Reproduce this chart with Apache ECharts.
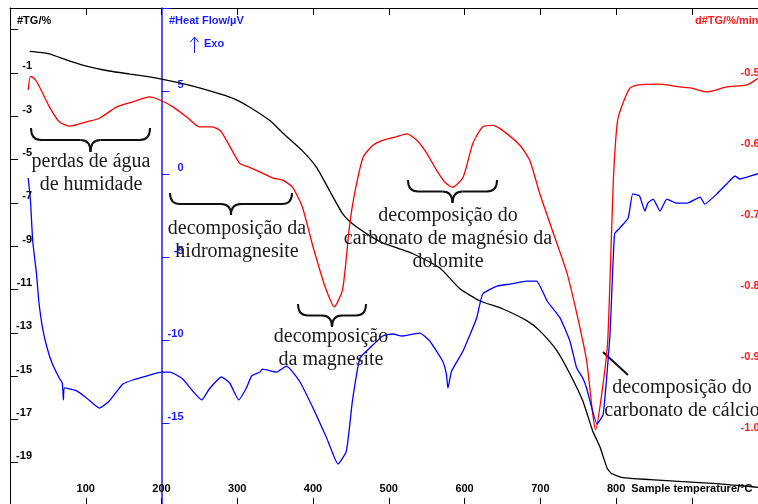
<!DOCTYPE html>
<html>
<head>
<meta charset="utf-8">
<script src="https://cdn.jsdelivr.net/npm/echarts@6/dist/echarts.min.js"></script>
<style>
html, body { margin: 0; padding: 0; background: #fff; }
#chart { width: 758px; height: 504px; }
</style>
</head>
<body>
<div id="chart"></div>
<script>
// ---- data ----
// TG (mass change, %) - left axis
var tgTemp = [26, 40, 52, 79, 105, 131, 158, 184, 200, 224, 250, 277, 296, 316, 343, 360, 386, 405, 422, 439, 452, 471, 492, 514, 532, 567, 594, 620, 650, 682, 699, 722, 739, 756, 769, 779, 788, 794, 809, 845, 888, 933, 977, 1003];
var tgMass = [0.0, -0.05, -0.12, -0.45, -0.72, -0.91, -1.05, -1.18, -1.28, -1.46, -1.69, -1.97, -2.2, -2.57, -3.2, -3.77, -4.6, -5.38, -6.45, -7.5, -7.97, -8.43, -8.85, -9.12, -9.35, -10.0, -10.97, -11.52, -11.89, -12.44, -12.9, -13.83, -14.89, -16.14, -17.52, -18.3, -19.23, -19.5, -19.69, -19.78, -19.87, -19.97, -20.1, -20.2];

// DTG (%/min) - right axis
var dtgTemp = [24, 27, 32, 39, 52, 65, 79, 101, 118, 141, 162, 184, 197, 215, 233, 250, 267, 279, 303, 316, 333, 347, 360, 373, 386, 400, 405, 415, 428, 439, 448, 455, 466, 479, 492, 510, 524, 537, 550, 563, 574, 584, 598, 611, 624, 637, 650, 673, 686, 699, 717, 735, 748, 761, 769, 773, 783, 789, 794, 797, 802, 809, 818, 829, 858, 884, 901, 920, 933, 946, 973, 987, 1000];
var dtgRate = [-0.515, -0.496, -0.499, -0.511, -0.539, -0.560, -0.566, -0.560, -0.555, -0.539, -0.532, -0.525, -0.529, -0.539, -0.553, -0.567, -0.567, -0.574, -0.618, -0.624, -0.632, -0.639, -0.642, -0.652, -0.680, -0.736, -0.754, -0.789, -0.820, -0.796, -0.708, -0.660, -0.610, -0.593, -0.586, -0.581, -0.577, -0.586, -0.604, -0.628, -0.645, -0.652, -0.638, -0.590, -0.567, -0.565, -0.572, -0.593, -0.614, -0.660, -0.716, -0.772, -0.829, -0.895, -0.969, -0.993, -0.927, -0.867, -0.716, -0.628, -0.558, -0.534, -0.513, -0.508, -0.507, -0.511, -0.513, -0.518, -0.515, -0.511, -0.508, -0.499, -0.490];

// DSC heat flow (µV) - blue axis at 200 °C
var dscTemp = [24, 27, 30, 35, 38, 43, 49, 56, 65, 69, 70.5, 72, 88, 101, 118, 131, 149, 162, 180, 200, 211, 228, 241, 253, 263, 279, 290, 302, 312, 319, 330, 333, 352, 365, 382, 400, 418, 433, 444, 452, 462, 475, 492, 505, 518, 541, 554, 571, 576, 578, 583, 598, 616, 624, 643, 660, 682, 695, 709, 726, 739, 748, 756, 761, 775, 783, 792, 798, 805, 816, 822, 831, 838, 842, 849, 858, 867, 880, 894, 911, 917, 933, 946, 957, 963, 986, 1000];
var dscHeat = [-0.24, -1.6, -4.04, -6.02, -7.65, -9.28, -10.48, -11.45, -12.29, -12.59, -13.61, -12.89, -13.07, -13.49, -14.10, -13.67, -12.65, -12.41, -12.17, -11.93, -11.93, -12.35, -13.07, -13.61, -12.95, -12.23, -12.59, -13.61, -12.89, -12.17, -11.93, -11.75, -11.93, -11.57, -12.47, -14.10, -15.90, -17.47, -16.69, -13.67, -11.08, -10.48, -9.76, -9.64, -9.76, -9.58, -10.06, -11.27, -12.05, -12.89, -11.87, -10.66, -8.67, -7.23, -6.75, -6.63, -6.45, -6.45, -7.65, -8.67, -10.06, -11.69, -12.29, -12.89, -15.06, -14.46, -9.64, -3.61, -3.25, -2.65, -1.20, -1.33, -2.23, -1.75, -1.51, -2.23, -1.51, -1.75, -1.75, -1.39, -1.81, -1.20, -0.60, -0.12, -0.30, 0.00, 0.10];

// annotation texts (Portuguese, as in the figure)
var notes = [
    { text: 'perdas de água\nde humidade', x: 91, y: 173.5 },
    { text: 'decomposição da\nhidromagnesite', x: 237, y: 240 },
    { text: 'decomposição\nda magnesite', x: 331, y: 348.5 },
    { text: 'decomposição do\ncarbonato de magnésio da\ndolomite', x: 448, y: 239 },
    { text: 'decomposição do\ncarbonato de cálcio', x: 682, y: 399.5 }
];
// curly braces: x from, x to, top y, depth
var braces = [
    [31, 150, 128, 12],
    [170, 292, 193, 11],
    [298, 366, 304, 11.5],
    [408, 497, 180, 11.5]
];

function zip(xs, ys) {
    return xs.map(function (x, i) { return [x, ys[i]]; });
}

var BLUE = '#1a1aff';
var RED = '#ff1a1a';
var labelFont = { fontFamily: 'Liberation Sans', fontWeight: 'bold', fontSize: 11 };

function braceElements(b) {
    var x1 = b[0], x2 = b[1], top = b[2], ry = b[3], rx = 10;
    var xm = (x1 + x2) / 2, ym = top + ry;
    var st = { stroke: '#111', lineWidth: 2, fill: null };
    return [
        { type: 'bezierCurve', shape: { x1: x1, y1: top, cpx1: x1, cpy1: ym, x2: x1 + rx, y2: ym }, style: st },
        { type: 'line', shape: { x1: x1 + rx, y1: ym, x2: xm - rx, y2: ym }, style: st },
        { type: 'bezierCurve', shape: { x1: xm - rx, y1: ym, cpx1: xm, cpy1: ym, x2: xm, y2: ym + ry }, style: st },
        { type: 'bezierCurve', shape: { x1: xm, y1: ym + ry, cpx1: xm, cpy1: ym, x2: xm + rx, y2: ym }, style: st },
        { type: 'line', shape: { x1: xm + rx, y1: ym, x2: x2 - rx, y2: ym }, style: st },
        { type: 'bezierCurve', shape: { x1: x2 - rx, y1: ym, cpx1: x2, cpy1: ym, x2: x2, y2: top }, style: st }
    ];
}

var graphics = [];
braces.forEach(function (b) { graphics = graphics.concat(braceElements(b)); });
notes.forEach(function (n) {
    graphics.push({
        type: 'text', x: n.x, y: n.y, z: 10,
        style: {
            text: n.text, fill: '#1a1a1a',
            fontFamily: 'Liberation Serif', fontSize: 20, lineHeight: 23,
            align: 'center', verticalAlign: 'middle',
            textAlign: 'center', textVerticalAlign: 'middle'
        }
    });
});
// pointer line for the calcium carbonate peak
graphics.push({ type: 'line', shape: { x1: 603, y1: 352, x2: 628, y2: 375 }, style: { stroke: '#111', lineWidth: 2 } });
// axis titles
graphics.push({ type: 'text', x: 17, y: 21, style: Object.assign({ text: '#TG/%', fill: '#000', verticalAlign: 'middle', textVerticalAlign: 'middle' }, labelFont) });
graphics.push({ type: 'text', x: 169, y: 21, style: Object.assign({ text: '#Heat Flow/µV', fill: BLUE, verticalAlign: 'middle', textVerticalAlign: 'middle' }, labelFont) });
graphics.push({ type: 'text', x: 204, y: 44, style: Object.assign({ text: 'Exo', fill: BLUE, verticalAlign: 'middle', textVerticalAlign: 'middle' }, labelFont) });
graphics.push({ type: 'text', x: 695, y: 21, style: Object.assign({ text: 'd#TG/%/min', fill: RED, verticalAlign: 'middle', textVerticalAlign: 'middle' }, labelFont) });
// Exo arrow
graphics.push({ type: 'line', shape: { x1: 194.5, y1: 53, x2: 194.5, y2: 37 }, style: { stroke: BLUE, lineWidth: 1 } });
graphics.push({ type: 'polyline', shape: { points: [[190.5, 42], [194.5, 37], [198.5, 42]] }, style: { stroke: BLUE, lineWidth: 1, fill: null } });

var chart = echarts.init(document.getElementById('chart'));
chart.setOption({
    animation: false,
    backgroundColor: '#fff',
    grid: { left: 10, top: 8, width: 757.6, height: 498, containLabel: false, outerBoundsMode: 'none' },
    xAxis: [{
        type: 'value', min: 0, max: 1000, interval: 100, position: 'bottom',
        axisLine: { show: true, onZero: false, lineStyle: { color: '#000' } },
        axisTick: { inside: true, length: 8, lineStyle: { color: '#000' } },
        axisLabel: Object.assign({
            inside: true, margin: 12, color: '#000',
            formatter: function (v) {
                if (v >= 100 && v <= 800) return String(v);
                if (v === 900) return 'Sample temperature/°C';
                return '';
            }
        }, labelFont),
        splitLine: { show: false }
    }, {
        type: 'value', min: 0, max: 1000, interval: 100, position: 'top',
        axisLine: { show: true, onZero: false, lineStyle: { color: '#000' } },
        axisTick: { inside: true, length: 7, lineStyle: { color: '#000' } },
        axisLabel: { show: false },
        splitLine: { show: false }
    }],
    yAxis: [{
        // #TG/%
        type: 'value', min: -21, max: 2, interval: 2, position: 'left',
        axisLine: { show: true, onZero: false, lineStyle: { color: '#000' } },
        axisTick: { inside: true, length: 8, lineStyle: { color: '#000' } },
        axisLabel: Object.assign({
            inside: true, align: 'right', margin: 22, verticalAlign: 'bottom', lineHeight: 13, color: '#000',
            formatter: function (v) { return (v <= -1 && v >= -19) ? String(v) : ''; }
        }, labelFont),
        splitLine: { show: false }
    }, {
        // #Heat Flow/µV, drawn at 200 °C
        type: 'value', min: -20, max: 10, interval: 5, position: 'left', offset: -151.5,
        axisLine: { show: true, onZero: false, lineStyle: { color: BLUE, width: 1.5 } },
        axisTick: { inside: true, length: 8, lineStyle: { color: BLUE } },
        axisLabel: Object.assign({
            inside: true, align: 'right', margin: 22, verticalAlign: 'bottom', lineHeight: 13, color: BLUE,
            formatter: function (v) { return (v > -20 && v < 10) ? String(v) : ''; }
        }, labelFont),
        splitLine: { show: false }
    }, {
        // d#TG/%/min
        type: 'value', min: -1.1, max: -0.4, interval: 0.1, position: 'right',
        axisLine: { show: true, onZero: false, lineStyle: { color: RED } },
        axisTick: { inside: true, length: 8, lineStyle: { color: RED } },
        axisLabel: Object.assign({
            inside: true, align: 'left', margin: 27, verticalAlign: 'bottom', lineHeight: 13, color: RED,
            formatter: function (v) { return (v > -1.05 && v < -0.45) ? v.toFixed(1) : ''; }
        }, labelFont),
        splitLine: { show: false }
    }],
    series: [{
        name: 'TG', type: 'line', xAxisIndex: 0, yAxisIndex: 0,
        data: zip(tgTemp, tgMass), showSymbol: false, smooth: 0.2,
        lineStyle: { color: '#000', width: 1.3 }
    }, {
        name: 'DTG', type: 'line', xAxisIndex: 0, yAxisIndex: 2,
        data: zip(dtgTemp, dtgRate), showSymbol: false, smooth: 0.2,
        lineStyle: { color: '#ff0000', width: 1.3 }
    }, {
        name: 'DSC', type: 'line', xAxisIndex: 0, yAxisIndex: 1,
        data: zip(dscTemp, dscHeat), showSymbol: false, smooth: 0.15,
        lineStyle: { color: '#0000ff', width: 1.3 }
    }],
    graphic: graphics
});
</script>
</body>
</html>
